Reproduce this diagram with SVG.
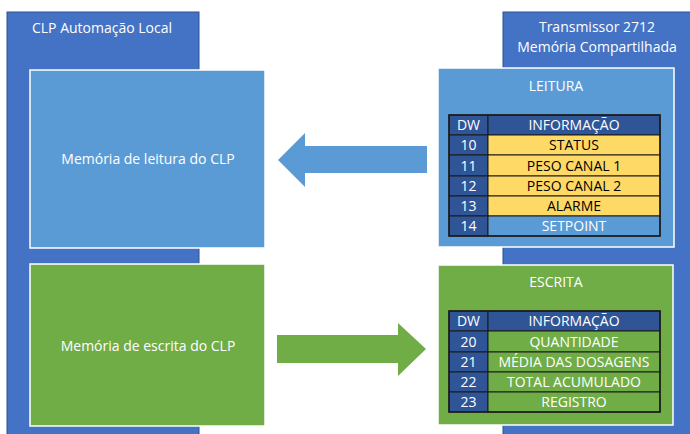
<svg xmlns="http://www.w3.org/2000/svg" width="690" height="434" viewBox="0 0 690 434">
<style>
text{font-family:"Open Sans","Liberation Sans",sans-serif;fill:#fff;text-anchor:middle}
.t{font-size:14px}
.c{font-size:14px}
.k{fill:#000}
.outer{fill:#4472C4;stroke:#2F528F;stroke-width:1}
.inner{stroke:#fff;stroke-width:1.5}
.lb{fill:#5B9BD5}
.gr{fill:#70AD47}
.cell{stroke:#1a1a1a;stroke-width:1}
.hd{fill:#2F5597}
.ye{fill:#FFD966}
</style>
<g id="clp">
<rect class="outer" x="7" y="12" width="192" height="430"/>
<text class="t" x="102" y="33">CLP Automação Local</text>
</g>
<g id="transmissor">
<rect class="outer" x="503" y="12" width="195" height="430"/>
<text class="t" x="597" y="32">Transmissor 2712</text>
<text class="t" x="597" y="52">Memória Compartilhada</text>
</g>
<g id="mem-leitura">
<rect class="inner lb" x="30" y="70" width="235" height="178"/>
<text class="t" x="148" y="164">Memória de leitura do CLP</text>
</g>
<g id="mem-escrita">
<rect class="inner gr" x="30" y="264" width="235" height="162"/>
<text class="t" x="148" y="351">Memória de escrita do CLP</text>
</g>
<g id="leitura">
<rect class="inner lb" x="438" y="68" width="236" height="179"/>
<text class="t" x="556" y="91">LEITURA</text>
<g class="cell">
<rect class="hd" x="449" y="115" width="39" height="20"/><rect class="hd" x="488" y="115" width="172" height="20"/>
<rect class="hd" x="449" y="135" width="39" height="20"/><rect class="ye" x="488" y="135" width="172" height="20"/>
<rect class="hd" x="449" y="155" width="39" height="21"/><rect class="ye" x="488" y="155" width="172" height="21"/>
<rect class="hd" x="449" y="176" width="39" height="20"/><rect class="ye" x="488" y="176" width="172" height="20"/>
<rect class="hd" x="449" y="196" width="39" height="20"/><rect class="ye" x="488" y="196" width="172" height="20"/>
<rect class="hd" x="449" y="216" width="39" height="20"/><rect class="lb" x="488" y="216" width="172" height="20"/>
</g>
<rect x="449" y="115" width="211" height="121" fill="none" stroke="#1a1a1a" stroke-width="1.5"/>
<text class="c" x="468.5" y="130">DW</text><text class="c" x="574" y="130">INFORMAÇÃO</text>
<text class="c" x="468.5" y="150">10</text><text class="c k" x="574" y="150">STATUS</text>
<text class="c" x="468.5" y="171">11</text><text class="c k" x="574" y="171">PESO CANAL 1</text>
<text class="c" x="468.5" y="191">12</text><text class="c k" x="574" y="191">PESO CANAL 2</text>
<text class="c" x="468.5" y="211">13</text><text class="c k" x="574" y="211">ALARME</text>
<text class="c" x="468.5" y="231">14</text><text class="c" x="574" y="231">SETPOINT</text>
</g>
<g id="escrita">
<rect class="inner gr" x="438" y="265" width="235" height="160"/>
<text class="t" x="556" y="287">ESCRITA</text>
<g class="cell">
<rect class="hd" x="449" y="311" width="39" height="20"/><rect class="hd" x="488" y="311" width="172" height="20"/>
<rect class="hd" x="449" y="331" width="39" height="21"/><rect class="gr" x="488" y="331" width="172" height="21"/>
<rect class="hd" x="449" y="352" width="39" height="20"/><rect class="gr" x="488" y="352" width="172" height="20"/>
<rect class="hd" x="449" y="372" width="39" height="20"/><rect class="gr" x="488" y="372" width="172" height="20"/>
<rect class="hd" x="449" y="392" width="39" height="20"/><rect class="gr" x="488" y="392" width="172" height="20"/>
</g>
<rect x="449" y="311" width="211" height="101" fill="none" stroke="#1a1a1a" stroke-width="1.5"/>
<text class="c" x="468.5" y="326">DW</text><text class="c" x="574" y="326">INFORMAÇÃO</text>
<text class="c" x="468.5" y="347">20</text><text class="c" x="574" y="347">QUANTIDADE</text>
<text class="c" x="468.5" y="367">21</text><text class="c" x="574" y="367">MÉDIA DAS DOSAGENS</text>
<text class="c" x="468.5" y="387">22</text><text class="c" x="574" y="387">TOTAL ACUMULADO</text>
<text class="c" x="468.5" y="407">23</text><text class="c" x="574" y="407">REGISTRO</text>
</g>
<g id="connectors">
<polygon fill="#5B9BD5" points="278,160 305,133 305,146 427,146 427,173 305,173 305,187"/>
<polygon fill="#70AD47" points="426,349 398,323 398,335 277,335 277,363 398,363 398,376"/>
</g>
</svg>
